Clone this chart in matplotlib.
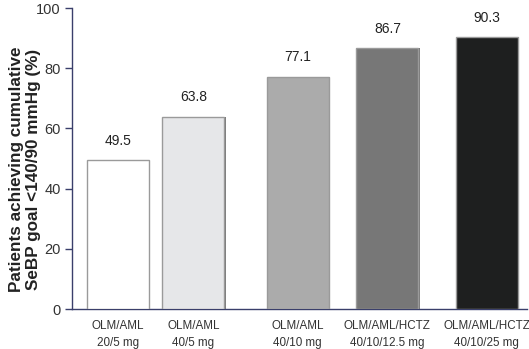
import matplotlib
matplotlib.use("Agg")
import matplotlib.pyplot as plt

plt.rcParams['font.family'] = ['Liberation Sans', 'DejaVu Sans']

categories = ["OLM/AML\n20/5 mg", "OLM/AML\n40/5 mg", "OLM/AML\n40/10 mg",
              "OLM/AML/HCTZ\n40/10/12.5 mg", "OLM/AML/HCTZ\n40/10/25 mg"]
values = [49.5, 63.8, 77.1, 86.7, 90.3]
value_labels = ["49.5", "63.8", "77.1", "86.7", "90.3"]
positions = [0.505, 1.335, 2.48, 3.467, 4.56]
colors = ["#ffffff", "#e6e7e9", "#ababab", "#777777", "#1e1f1f"]
yticks = [0, 20, 40, 60, 80, 100]

fig = plt.figure(figsize=(5.29, 3.49), dpi=100)
ax = fig.add_axes([0.136, 0.1146, 0.860, 0.8624])

width = 0.68
# shadow
ax.bar([p + 0.015 for p in positions], values, width=width, color="#7a7a7a",
       edgecolor="none", zorder=2)
ax.bar(positions, values, width=width, color=colors, edgecolor="#9a9a9a",
       linewidth=1.0, zorder=3)

for p, v, lab in zip(positions, values, value_labels):
    ax.annotate(lab, (p, v), xytext=(0, 9), textcoords="offset points",
                ha="center", va="bottom", fontsize=10, color="#222222")

ax.set_xlim(0, 5)
ax.set_ylim(0, 100)
ax.set_xticks(positions)
ax.set_xticklabels(categories, fontsize=8.4, color="#333333", linespacing=1.5)
ax.tick_params(axis="x", length=0, pad=8)
ax.set_yticks(yticks)
ax.set_yticklabels([str(t) for t in yticks], fontsize=10.5, color="#333333")
ax.tick_params(axis="y", direction="out", length=5, width=1, color="#3a3f6b", pad=3)

for s in ["top", "right"]:
    ax.spines[s].set_visible(False)
for s in ["left", "bottom"]:
    ax.spines[s].set_color("#3a3f6b")
    ax.spines[s].set_linewidth(1.0)

ax.set_ylabel("Patients achieving cumulative\nSeBP goal <140/90 mmHg (%)",
              fontsize=12.3, fontweight="bold", color="#222222",
              linespacing=1.15)
ax.yaxis.set_label_coords(-0.068, 0.465)

fig.savefig("out.png", dpi=100)
